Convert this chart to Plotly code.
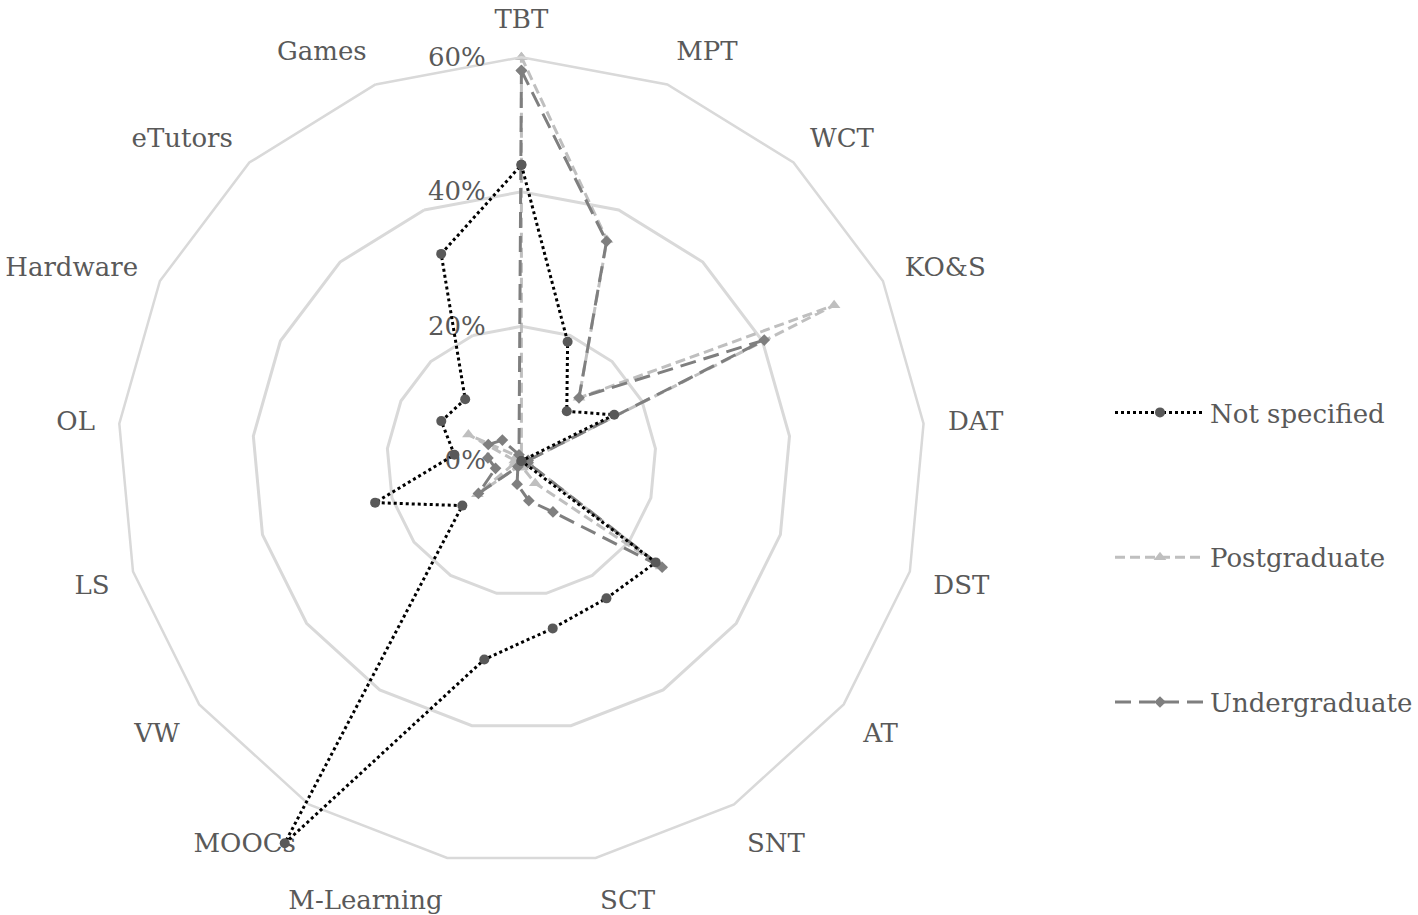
import plotly.graph_objects as go

categories = ["TBT", "MPT", "WCT", "KO&S", "DAT", "DST", "AT", "SNT", "SCT",
              "M-Learning", "MOOCs", "VW", "LS", "OL", "Hardware", "eTutors", "Games"]

not_specified = [44, 19, 10, 15.4, 0, 0, 25, 24, 25.3, 30, 66.8, 11, 22.6, 10, 13.3, 12.4, 33]
postgraduate = [60, 35.2, 12.7, 51.9, 1, 1, 26, 3.9, 1, 1, 1, 8.2, 1, 1, 8.8, 1, 0]
undergraduate = [58, 35, 12.7, 40.3, 1, 1, 26.2, 8.9, 6.0, 3.5, 1, 8, 4, 5, 5.5, 4.2, 1]

radial_ticks = [0, 20, 40, 60]
radial_ticktext = ["0%", "20%", "40%", "60%"]
axis_max = 60          # outer grid polygon of the chart
data_max = 66.9        # wider radial range for the overlay that holds the outlier series

FONT = "DejaVu Serif"
TEXT = "#595959"
GRID = "#D9D9D9"


def closed(vals):
    return list(vals) + [vals[0]]


theta = closed(categories)

W, H = 1418, 915
cx, cy = 525.5, 461.0          # chart centre in px from the top-left
R60 = 407.0                     # px radius of the 60% polygon
R_data = R60 * data_max / axis_max


def domain(radius):
    yc = H - cy
    return dict(x=[(cx - radius) / W, (cx + radius) / W],
                y=[max(0.0, (yc - radius) / H), min(1.0, (yc + radius) / H)])


fig = go.Figure()
fig.add_trace(go.Scatterpolar(
    r=closed(not_specified), theta=theta, name="Not specified", subplot="polar2",
    mode="lines+markers", legendgroup="a", cliponaxis=False,
    line=dict(color="#000000", width=3, dash="dot"),
    marker=dict(symbol="circle", size=10, color="#595959"),
))
fig.add_trace(go.Scatterpolar(
    r=closed(postgraduate), theta=theta, name="Postgraduate", subplot="polar",
    mode="lines+markers", legendgroup="b", cliponaxis=False,
    line=dict(color="#BFBFBF", width=3, dash="10px,5px"),
    marker=dict(symbol="triangle-up", size=11, color="#BFBFBF"),
))
fig.add_trace(go.Scatterpolar(
    r=closed(undergraduate), theta=theta, name="Undergraduate", subplot="polar",
    mode="lines+markers", legendgroup="c", cliponaxis=False,
    line=dict(color="#7F7F7F", width=3, dash="16px,8px"),
    marker=dict(symbol="diamond", size=9, color="#7F7F7F"),
))

fig.update_layout(
    width=W, height=H,
    margin=dict(l=0, r=0, t=0, b=0),
    paper_bgcolor="white",
    font=dict(family=FONT, size=26, color=TEXT),
    polar=dict(
        domain=domain(R60),
        bgcolor="white",
        gridshape="linear",
        radialaxis=dict(
            range=[0, axis_max], tickvals=radial_ticks, ticktext=radial_ticktext,
            angle=90, side="counterclockwise", tickangle=90,
            showline=False, ticks="outside", ticklen=26, tickcolor="rgba(0,0,0,0)",
            showgrid=True, gridcolor=GRID, gridwidth=2.5,
            tickfont=dict(family=FONT, size=26, color=TEXT),
        ),
        angularaxis=dict(
            direction="clockwise", rotation=90,
            showgrid=False, showline=True, linecolor=GRID, linewidth=2.5,
            ticks="outside", ticklen=18, tickcolor="rgba(0,0,0,0)",
            tickfont=dict(family=FONT, size=26, color=TEXT),
        ),
    ),
    polar2=dict(
        domain=domain(R_data),
        bgcolor="rgba(0,0,0,0)",
        radialaxis=dict(range=[0, data_max], visible=False, showgrid=False,
                        showline=False, showticklabels=False, ticks=""),
        angularaxis=dict(direction="clockwise", rotation=90, showgrid=False,
                         showline=False, showticklabels=False, ticks=""),
    ),
    showlegend=True,
    legend=dict(
        x=1119 / W, xanchor="left", y=1 - 389 / H, yanchor="top",
        font=dict(family=FONT, size=26, color=TEXT),
        tracegroupgap=108, itemwidth=90,
        bgcolor="rgba(0,0,0,0)",
    ),
)

fig.write_html(
    "out.html",
    config={"displayModeBar": False},
    post_script="document.body.style.margin='0';document.body.style.padding='0';"
                "document.body.style.overflow='hidden';",
)
